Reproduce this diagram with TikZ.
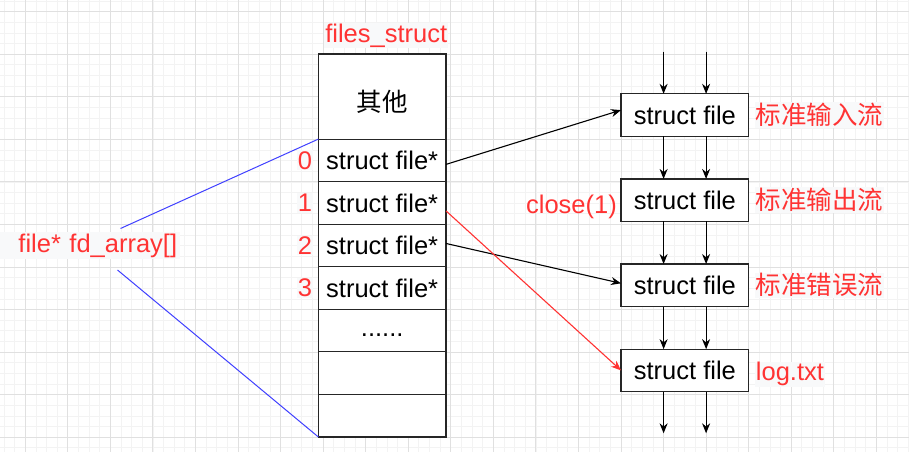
\documentclass[tikz,border=0pt]{standalone}
\usepackage{fontspec}
\setmainfont{Liberation Sans}
\newfontfamily\cjk{Noto Sans CJK SC}
\usepackage{tikz}
\usetikzlibrary{arrows.meta, positioning}
\definecolor{lblred}{RGB}{255,51,51}
\definecolor{ptrblue}{RGB}{64,64,255}
\definecolor{gridmajor}{RGB}{224,224,224}
\definecolor{gridminor}{RGB}{243,243,243}
\definecolor{labelbg}{RGB}{248,249,250}

\begin{document}
\begin{tikzpicture}[
    x=1pt, y=-1pt,
    font=\fontsize{25.5}{30}\selectfont,
    cell/.style={rectangle, draw=black!85, fill=white, line width=1.2pt, minimum width=127.7pt, minimum height=42.55pt, inner sep=0pt, outer sep=0pt},
    redlbl/.style={text=lblred, fill=labelbg, inner sep=1pt},
    arr/.style={-{Stealth[length=10pt, width=8pt]}, line width=1.1pt}
]
\useasboundingbox (0,0) rectangle (909,452);
\fill[white] (0,0) rectangle (909,452);
% background grid
\foreach \k in {-2,...,83} \draw[gridminor, line width=0.8pt] ({25.3+\k*10.6375},0) -- ++(0,452);
\foreach \k in {-1,...,41} \draw[gridminor, line width=0.8pt] (0,{11.7+\k*10.6375}) -- ++(909,0);
\foreach \k in {0,...,20} \draw[gridmajor, line width=1pt] ({25.3+\k*42.55},0) -- ++(0,452);
\foreach \k in {0,...,10} \draw[gridmajor, line width=1pt] (0,{11.7+\k*42.55}) -- ++(909,0);

% files_struct
\node[cell, minimum height=85.1pt] (other) at (382.2,96.55) {};
\node (othertxt) at ([yshift=-5pt]other.center) {\cjk 其他};
\node[cell, below=0pt of other] (r0) {struct file*};
\node[cell, below=0pt of r0] (r1) {struct file*};
\node[cell, below=0pt of r1] (r2) {struct file*};
\node[cell, below=0pt of r2] (r3) {struct file*};
\node[cell, below=0pt of r3] (r4) {\strut......};
\node[cell, below=0pt of r4] (r5) {};
\node[cell, below=0pt of r5] (r6) {};
\node[redlbl, anchor=base] (fstitle) at ([xshift=4pt, yshift=12pt]other.north) {files\_struct};
\node[redlbl, anchor=east] (i0) at ([xshift=-5pt]r0.west) {0};
\node[redlbl, anchor=east] (i1) at ([xshift=-5pt]r1.west) {1};
\node[redlbl, anchor=east] (i2) at ([xshift=-5pt]r2.west) {2};
\node[redlbl, anchor=east] (i3) at ([xshift=-5pt]r3.west) {3};

% fd_array
\node[redlbl, anchor=west, text width=174pt, align=right, inner xsep=3pt, inner ysep=0pt, minimum height=27pt] (fd) at (0,245.5) {file* fd\_array[]};
\coordinate (fdtop) at (120.5,228.5);
\coordinate (fdbot) at (117.5,270);
\draw[ptrblue, line width=1pt] (fdtop) -- (other.south west);
\draw[ptrblue, line width=1pt] (fdbot) -- (r6.south west);

% struct file chain
\node[cell] (b1) at (684.85,115.1) {struct file};
\node[cell, below=42.55pt of b1] (b2) {struct file};
\node[cell, below=42.55pt of b2] (b3) {struct file};
\node[cell, below=42.55pt of b3] (b4) {struct file};
\node[redlbl, anchor=west] (l1) at ([xshift=6pt]b1.east) {\cjk 标准输入流};
\node[redlbl, anchor=west] (l2) at ([xshift=6pt]b2.east) {\cjk 标准输出流};
\node[redlbl, anchor=west] (l3) at ([xshift=6pt]b3.east) {\cjk 标准错误流};
\node[redlbl, anchor=west] (l4) at ([xshift=6pt, yshift=-4pt]b4.east) {log.txt};
\node[redlbl, fill=none, anchor=east] (cl) at ([xshift=-3pt, yshift=-7pt]b2.west) {close(1)};

\coordinate (inL) at (663.6,51.7);
\coordinate (inR) at (706.1,51.7);
\coordinate (outL) at (663.6,433.3);
\coordinate (outR) at (706.1,433.3);
\draw[arr] (inL) -- ([xshift=-21.25pt]b1.north);
\draw[arr] (inR) -- ([xshift=21.25pt]b1.north);
\draw[arr] ([xshift=-21.25pt]b1.south) -- ([xshift=-21.25pt]b2.north);
\draw[arr] ([xshift=21.25pt]b1.south) -- ([xshift=21.25pt]b2.north);
\draw[arr] ([xshift=-21.25pt]b2.south) -- ([xshift=-21.25pt]b3.north);
\draw[arr] ([xshift=21.25pt]b2.south) -- ([xshift=21.25pt]b3.north);
\draw[arr] ([xshift=-21.25pt]b3.south) -- ([xshift=-21.25pt]b4.north);
\draw[arr] ([xshift=21.25pt]b3.south) -- ([xshift=21.25pt]b4.north);
\draw[arr] ([xshift=-21.25pt]b4.south) -- (outL);
\draw[arr] ([xshift=21.25pt]b4.south) -- (outR);

% fd pointers
\draw[arr] ([yshift=-4pt]r0.east) -- ([yshift=5pt]b1.west);
\draw[arr] ([yshift=2pt]r2.east) -- ([yshift=2pt]b3.west);
\draw[arr, lblred] ([yshift=-8pt]r1.east) -- (b4.west);
\end{tikzpicture}
\end{document}
